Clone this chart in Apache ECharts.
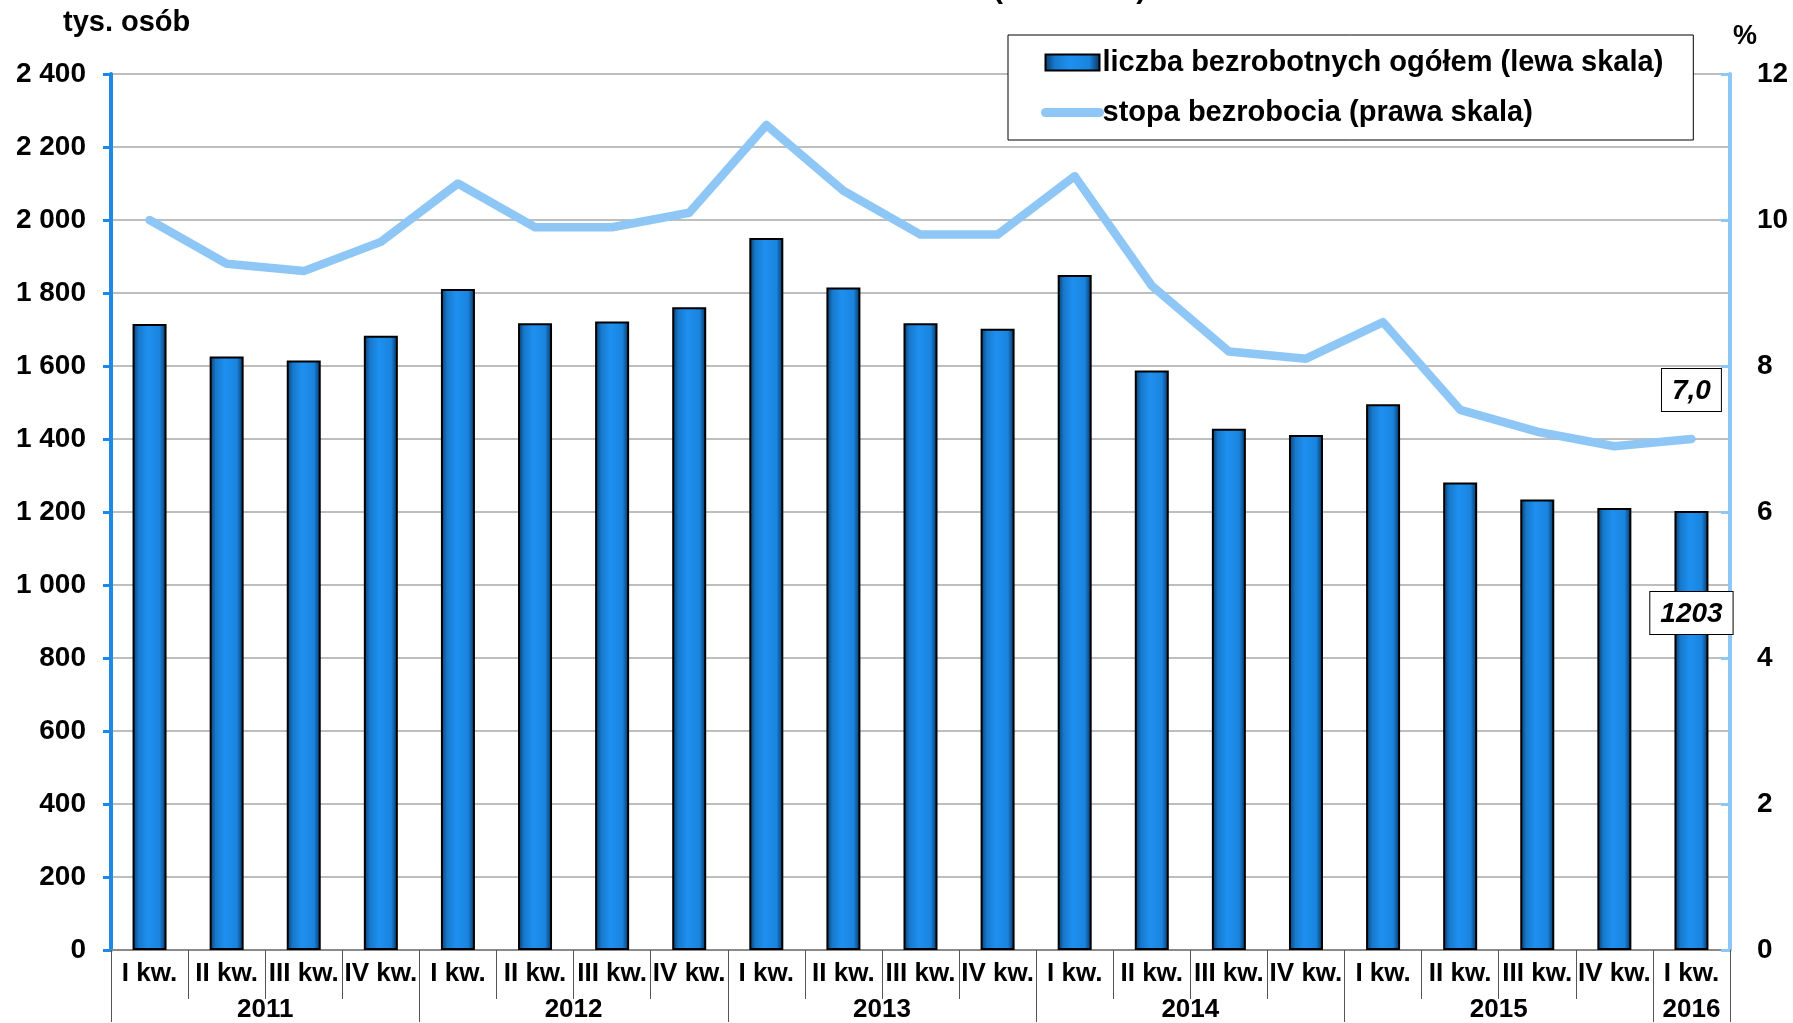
<!DOCTYPE html>
<html>
<head>
<meta charset="utf-8">
<script src="https://cdn.jsdelivr.net/npm/echarts@6/dist/echarts.min.js"></script>
<style>
  html, body { margin: 0; padding: 0; background: #fff; }
  #main { width: 1793px; height: 1023px; }
</style>
</head>
<body>
<div id="main"></div>
<script>
var quarters = [
  "I kw.", "II kw.", "III kw.", "IV kw.",
  "I kw.", "II kw.", "III kw.", "IV kw.",
  "I kw.", "II kw.", "III kw.", "IV kw.",
  "I kw.", "II kw.", "III kw.", "IV kw.",
  "I kw.", "II kw.", "III kw.", "IV kw.",
  "I kw."
];
var years = ["2011", "2012", "2013", "2014", "2015", "2016"];
var yearStarts = [0, 4, 8, 12, 16, 20, 21];
// tys. osób
var unemployed = [1715, 1626, 1615, 1683, 1811, 1717, 1722, 1761, 1951, 1815, 1717, 1702,
  1849, 1588, 1428, 1411, 1495, 1281, 1234, 1211, 1203];
// %
var rate = [10.0, 9.4, 9.3, 9.7, 10.5, 9.9, 9.9, 10.1, 11.3, 10.4, 9.8, 9.8,
  10.6, 9.1, 8.2, 8.1, 8.6, 7.4, 7.1, 6.9, 7.0];

var barName = "liczba bezrobotnych ogółem (lewa skala)";
var lineName = "stopa bezrobocia (prawa skala)";
var font = "Liberation Sans, Arial, sans-serif";

var yearMids = [];
for (var i = 0; i < years.length; i++) {
  yearMids.push((yearStarts[i] + yearStarts[i + 1]) / 2);
}
var last = unemployed.length - 1;

var boxLabel = {
  show: true,
  color: "#000",
  fontFamily: font,
  fontWeight: "bold",
  fontStyle: "italic",
  fontSize: 28,
  backgroundColor: "#fff",
  borderColor: "#000",
  borderWidth: 1,
  padding: [8, 10, 6, 10]
};

var barData = unemployed.map(function (v, i) {
  if (i !== last) return v;
  return {
    value: v,
    label: Object.assign({}, boxLabel, { position: "insideTop", distance: 81, formatter: "{c}" })
  };
});
var lineData = rate.map(function (v, i) {
  if (i !== last) return v;
  return {
    value: v,
    symbol: "circle",
    symbolSize: 2,
    label: Object.assign({}, boxLabel, {
      position: "top",
      distance: 27,
      formatter: function (p) { return p.value.toFixed(1).replace(".", ","); }
    })
  };
});

var myChart = echarts.init(document.getElementById("main"));
myChart.setOption({
  animation: false,
  textStyle: { fontFamily: font },
  grid: { left: 111, right: 63, top: 74, bottom: 72 },
  graphic: [
    { type: "text", left: 63, top: 8, style: { text: "tys. osób", font: "bold 29px " + font, fill: "#000" } },
    { type: "text", left: 1733, top: 23, style: { text: "%", font: "bold 27px " + font, fill: "#000" } },
    { type: "text", left: 993, top: -25, style: { text: "(                )", font: "bold 30px " + font, fill: "#000" } }
  ],
  legend: {
    orient: "vertical",
    left: 1008,
    top: 35,
    backgroundColor: "#fff",
    borderColor: "#000",
    borderWidth: 1,
    padding: [13, 30, 13, 33],
    itemGap: 21,
    itemWidth: 54,
    itemHeight: 16,
    textStyle: { fontSize: 29, fontWeight: "bold", color: "#000", fontFamily: font, padding: [0, 0, 0, -2] },
    data: [
      { name: barName, icon: "rect" },
      { name: lineName, itemStyle: { opacity: 0 }, lineStyle: { width: 9, cap: "round", color: "#8ec7f5" } }
    ]
  },
  xAxis: [
    {
      type: "category",
      data: quarters,
      axisLine: { lineStyle: { color: "#8a8a8a", width: 2 } },
      axisTick: { show: true, interval: 0, length: 49, lineStyle: { color: "#555", width: 1 } },
      axisLabel: { interval: 0, margin: 11, color: "#000", fontSize: 26, fontWeight: "bold", fontFamily: font }
    },
    {
      type: "value",
      min: 0,
      max: quarters.length,
      position: "bottom",
      axisLine: { show: false },
      splitLine: { show: false },
      axisTick: { show: true, customValues: yearStarts, length: 72, lineStyle: { color: "#555", width: 1 } },
      axisLabel: {
        customValues: yearMids,
        margin: 47,
        color: "#000",
        fontSize: 26,
        fontWeight: "bold",
        fontFamily: font,
        formatter: function (v) { return years[yearMids.indexOf(v)]; }
      }
    }
  ],
  yAxis: [
    {
      type: "value",
      min: 0,
      max: 2400,
      interval: 200,
      axisLine: { show: true, lineStyle: { color: "#1e88e5", width: 4 } },
      axisTick: { show: true, length: 8, lineStyle: { color: "#1e88e5", width: 3 } },
      splitLine: { lineStyle: { color: "#a8a8a8", width: 1.5 } },
      axisLabel: {
        margin: 25,
        color: "#000",
        fontSize: 28,
        fontWeight: "bold",
        fontFamily: font,
        formatter: function (v) { return String(v).replace(/\B(?=(\d{3})+(?!\d))/g, " "); }
      }
    },
    {
      type: "value",
      min: 0,
      max: 12,
      interval: 2,
      position: "right",
      axisLine: { show: true, lineStyle: { color: "#8ec7f5", width: 4 } },
      axisTick: { show: true, inside: true, length: 9, lineStyle: { color: "#8ec7f5", width: 3 } },
      splitLine: { show: false },
      axisLabel: { margin: 27, color: "#000", fontSize: 28, fontWeight: "bold", fontFamily: font }
    }
  ],
  series: [
    {
      name: barName,
      type: "bar",
      barWidth: 34,
      data: barData,
      itemStyle: {
        color: new echarts.graphic.LinearGradient(0, 0, 1, 0, [
          { offset: 0, color: "#0a3a66" },
          { offset: 0.18, color: "#1779cc" },
          { offset: 0.45, color: "#1e90f0" },
          { offset: 0.8, color: "#1a84de" },
          { offset: 1, color: "#083059" }
        ]),
        borderColor: "#000",
        borderWidth: 2
      }
    },
    {
      name: lineName,
      type: "line",
      yAxisIndex: 1,
      symbol: "none",
      data: lineData,
      itemStyle: { color: "#8ec7f5" },
      lineStyle: { color: "#8ec7f5", width: 8.5, cap: "round", join: "round" },
      z: 3
    }
  ]
});
</script>
</body>
</html>
